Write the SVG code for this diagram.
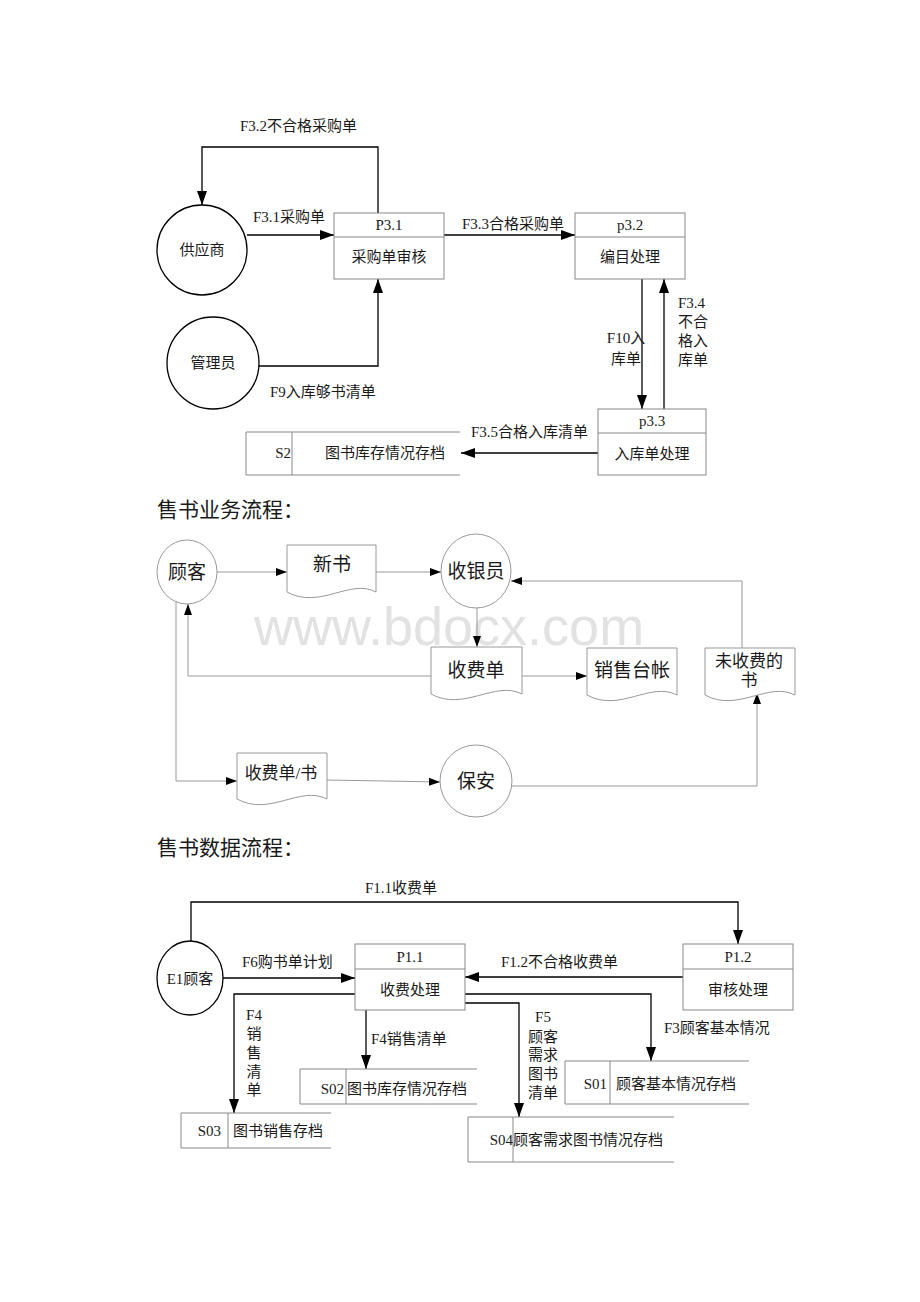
<svg xmlns="http://www.w3.org/2000/svg" width="920" height="1302" viewBox="0 0 920 1302">
<defs>
<marker id="ah" markerUnits="userSpaceOnUse" markerWidth="14" markerHeight="10" refX="14" refY="5" orient="auto"><path d="M0,0 L14,5 L0,10 z" fill="#000"/></marker>
<marker id="as" markerUnits="userSpaceOnUse" markerWidth="11" markerHeight="8" refX="11" refY="4" orient="auto"><path d="M0,0 L11,4 L0,8 z" fill="#000"/></marker>
</defs>
<style>
text{font-family:"Liberation Serif","Noto Sans CJK SC",serif;fill:#1a1a1a;font-size:15px}
.m{text-anchor:middle}
.e{text-anchor:end}
.big{font-size:19px}
.h{font-size:21px}
.box{fill:#fff;stroke:#888;stroke-width:1}
.ent{fill:#fff;stroke:#000;stroke-width:1.3}
.st{fill:none;stroke:#888;stroke-width:1}
.c{fill:none;stroke:#000;stroke-width:1.3;marker-end:url(#ah)}
.g{fill:none;stroke:#999;stroke-width:1}
.ga{fill:none;stroke:#999;stroke-width:1;marker-end:url(#as)}
.doc{fill:#fff;stroke:#999;stroke-width:1}
.wm{font-family:"Liberation Sans",sans-serif;font-size:54px;fill:#e2e2e2}
</style>
<rect width="920" height="1302" fill="#fff"/>
<text class="wm" x="254" y="645">www.bdocx.com</text>

<g id="connectors">
<polyline class="c" points="378,213 378,147 202,147 202,205"/>
<line class="c" x1="247" y1="235" x2="334" y2="235"/>
<line class="c" x1="444" y1="235" x2="575" y2="235"/>
<line class="c" x1="642" y1="279" x2="642" y2="409"/>
<line class="c" x1="664" y1="409" x2="664" y2="279"/>
<polyline class="c" points="259,366 378,366 378,279"/>
<line class="c" x1="598" y1="453" x2="461" y2="453"/>

<line class="ga" x1="217" y1="572" x2="287" y2="572"/>
<line class="ga" x1="376" y1="572" x2="441" y2="572"/>
<line class="ga" x1="477" y1="608" x2="477" y2="647"/>
<line class="ga" x1="522" y1="676" x2="587" y2="676"/>
<polyline class="ga" points="431,676 188,676 188,604"/>
<polyline class="ga" points="742,648 742,581 511,581"/>
<polyline class="ga" points="176,601 176,781 237,781"/>
<line class="ga" x1="327" y1="780" x2="440" y2="782"/>
<polyline class="ga" points="512,786 757,786 757,693"/>

<polyline class="c" points="191,941 191,902 738,902 738,944"/>
<line class="c" x1="223" y1="978" x2="355" y2="978"/>
<line class="c" x1="683" y1="977" x2="465" y2="977"/>
<polyline class="c" points="355,994 234,994 234,1113"/>
<line class="c" x1="366" y1="1010" x2="366" y2="1069"/>
<polyline class="c" points="465,1003 519,1003 519,1117"/>
<polyline class="c" points="465,994 651,994 651,1061"/>
</g>

<g id="labels">
<text x="240" y="131">F3.2不合格采购单</text>
<text x="253" y="222">F3.1采购单</text>
<text x="462" y="229">F3.3合格采购单</text>
<text class="m" x="626" y="343">F10入</text>
<text class="m" x="626" y="364">库单</text>
<text x="678" y="308">F3.4</text>
<text x="678" y="327">不合</text>
<text x="678" y="346">格入</text>
<text x="678" y="365">库单</text>
<text x="270" y="397">F9入库够书清单</text>
<text x="471" y="437">F3.5合格入库清单</text>

<text class="h" x="157" y="517">售书业务流程：</text>
<text class="h" x="157" y="855">售书数据流程：</text>

<text x="365" y="893">F1.1收费单</text>
<text x="242" y="967">F6购书单计划</text>
<text x="501" y="967">F1.2不合格收费单</text>
<text x="664" y="1033">F3顾客基本情况</text>
<text x="371" y="1044">F4销售清单</text>
<text class="m" x="254" y="1020">F4</text>
<text class="m" x="254" y="1039">销</text>
<text class="m" x="254" y="1058">售</text>
<text class="m" x="254" y="1077">清</text>
<text class="m" x="254" y="1095">单</text>
<text class="m" x="543" y="1022">F5</text>
<text class="m" x="543" y="1042">顾客</text>
<text class="m" x="543" y="1060">需求</text>
<text class="m" x="543" y="1079">图书</text>
<text class="m" x="543" y="1098">清单</text>
</g>

<g id="n-supplier"><circle class="ent" cx="202" cy="250" r="45"/><text class="m" x="202" y="255">供应商</text></g>
<g id="n-p31"><rect class="box" x="334" y="213" width="110" height="66"/><line class="st" x1="334" y1="237" x2="444" y2="237"/><text class="m" x="389" y="230">P3.1</text><text class="m" x="389" y="262">采购单审核</text></g>
<g id="n-p32"><rect class="box" x="575" y="213" width="110" height="66"/><line class="st" x1="575" y1="237" x2="685" y2="237"/><text class="m" x="630" y="230">p3.2</text><text class="m" x="630" y="262">编目处理</text></g>
<g id="n-admin"><circle class="ent" cx="213" cy="363" r="46"/><text class="m" x="213" y="368">管理员</text></g>
<g id="n-p33"><rect class="box" x="598" y="409" width="108" height="66"/><line class="st" x1="598" y1="433" x2="706" y2="433"/><text class="m" x="652" y="426">p3.3</text><text class="m" x="652" y="459">入库单处理</text></g>
<g id="n-s2"><path class="st" d="M460,432 H246 V475 H460"/><line class="st" x1="292" y1="432" x2="292" y2="475"/><text class="e" x="291" y="458">S2</text><text class="m" x="385" y="458">图书库存情况存档</text></g>

<g id="n-customer"><ellipse class="doc" cx="187" cy="572" rx="30" ry="32"/><text class="m big" x="187" y="579">顾客</text></g>
<g id="n-newbook"><path class="doc" d="M287,545 H376 V592 C350,578 320,610 287,592 Z"/><text class="m big" x="332" y="571">新书</text></g>
<g id="n-cashier"><ellipse class="doc" cx="476" cy="571" rx="35" ry="37"/><text class="m big" x="476" y="578">收银员</text></g>
<g id="n-receipt"><path class="doc" d="M431,647 H522 V694 C495,680 464,712 431,694 Z"/><text class="m big" x="476" y="677">收费单</text></g>
<g id="n-ledger"><path class="doc" d="M587,648 H677 V695 C650,681 620,713 587,695 Z"/><text class="m big" x="632" y="677">销售台帐</text></g>
<g id="n-unpaid"><path class="doc" d="M705,648 H795 V695 C768,681 738,713 705,695 Z"/><text class="m" style="font-size:17px" x="749" y="667">未收费的</text><text class="m" style="font-size:17px" x="749" y="686">书</text></g>
<g id="n-receiptbook"><path class="doc" d="M237,753 H327 V799 C300,785 270,817 237,799 Z"/><text class="m" style="font-size:17px" x="281" y="779">收费单/书</text></g>
<g id="n-guard"><ellipse class="doc" cx="476" cy="781" rx="36" ry="36"/><text class="m big" x="476" y="788">保安</text></g>

<g id="n-e1"><ellipse class="ent" cx="190" cy="978" rx="33" ry="37"/><text class="m" x="190" y="984">E1顾客</text></g>
<g id="n-p11"><rect class="box" x="355" y="944" width="110" height="66"/><line class="st" x1="355" y1="969" x2="465" y2="969"/><text class="m" x="410" y="962">P1.1</text><text class="m" x="410" y="995">收费处理</text></g>
<g id="n-p12"><rect class="box" x="683" y="944" width="110" height="66"/><line class="st" x1="683" y1="969" x2="793" y2="969"/><text class="m" x="738" y="962">P1.2</text><text class="m" x="738" y="995">审核处理</text></g>
<g id="n-s01"><path class="st" d="M749,1061 H565 V1104 H749"/><line class="st" x1="610" y1="1061" x2="610" y2="1104"/><text class="e" x="607" y="1089">S01</text><text x="616" y="1089">顾客基本情况存档</text></g>
<g id="n-s02"><path class="st" d="M477,1069 H300 V1104 H477"/><line class="st" x1="346" y1="1069" x2="346" y2="1104"/><text class="e" x="344" y="1094">S02</text><text x="347" y="1094">图书库存情况存档</text></g>
<g id="n-s03"><path class="st" d="M331,1113 H181 V1148 H331"/><line class="st" x1="228" y1="1113" x2="228" y2="1148"/><text class="e" x="221" y="1136">S03</text><text x="233" y="1136">图书销售存档</text></g>
<g id="n-s04"><path class="st" d="M674,1117 H468 V1162 H674"/><line class="st" x1="513" y1="1117" x2="513" y2="1162"/><text class="e" x="513" y="1145">S04</text><text x="513" y="1145">顾客需求图书情况存档</text></g>
</svg>
